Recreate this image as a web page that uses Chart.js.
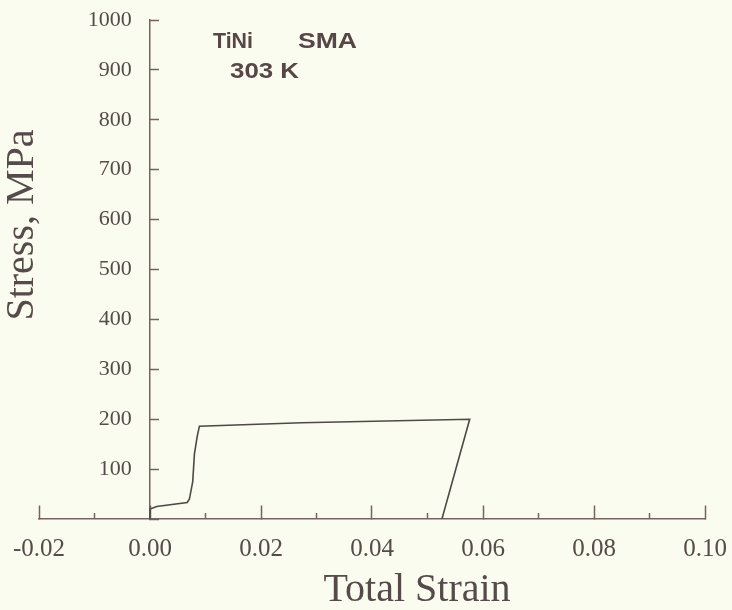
<!DOCTYPE html>
<html>
<head>
<meta charset="utf-8">
<script src="https://cdn.jsdelivr.net/npm/chart.js@4/dist/chart.umd.min.js"></script>
<style>
  html, body { margin: 0; padding: 0; background: #fafcef; }
  #wrap { width: 732px; height: 610px; }
</style>
</head>
<body>
<div id="wrap"><canvas id="stressChart" width="732" height="610"></canvas></div>
<script>
"use strict"
// TiNi shape memory alloy, 303 K: stress vs total strain loop
var strain = [0, 0, 0.0012, 0.0067, 0.0071, 0.0077, 0.0080, 0.0085, 0.0089, 0.0273, 0.0576, 0.0526];
var stress = [0, 20, 25, 33, 40, 75, 130, 165, 186, 193, 200, 0];

var strainTicks = [-0.02, 0.00, 0.02, 0.04, 0.06, 0.08, 0.10];
var stressTicks = [100, 200, 300, 400, 500, 600, 700, 800, 900, 1000];

var ink = "#564b4b";
var axisInk = "#756262";

// draw a word squeezed or stretched to a given width
function fitText(ctx, text, x, y, w) {
  var k = w / ctx.measureText(text).width;
  ctx.save();
  ctx.translate(x, y);
  ctx.scale(k, 1);
  ctx.fillText(text, 0, 0);
  ctx.restore();
}

// axis titles and the alloy note, drawn straight on the canvas
var textPlugin = {
  id: "textPlugin",
  beforeDraw: function(chart) {
    var ctx = chart.ctx;
    ctx.save();
    ctx.fillStyle = "#fafcef";
    ctx.fillRect(0, 0, chart.width, chart.height);
    ctx.restore();
  },
  afterDraw: function(chart) {
    var ctx = chart.ctx;
    ctx.save();
    ctx.fillStyle = ink;
    ctx.font = "40px 'Liberation Serif', 'Times New Roman', serif";
    ctx.textAlign = "center";
    ctx.textBaseline = "middle";
    ctx.fillText("Total Strain", 417, 590);

    ctx.save();
    ctx.translate(22, 225);
    ctx.rotate(-Math.PI / 2);
    ctx.fillText("Stress, MPa", 0, 0);
    ctx.restore();

    ctx.fillStyle = "#564646";
    ctx.font = "bold 22px 'Liberation Sans', Arial, sans-serif";
    ctx.textAlign = "left";
    ctx.textBaseline = "alphabetic";
    fitText(ctx, "TiNi", 213, 48, 40);
    fitText(ctx, "SMA", 298, 48, 59);
    fitText(ctx, "303 K", 230, 78, 69);
    ctx.restore();
  }
};

// axes sit inside the plot, so they should not push the plot area around
function noPadding(scale) {
  scale.paddingLeft = 0;
  scale.paddingRight = 0;
  scale.paddingTop = 0;
  scale.paddingBottom = 0;
}

var points = strain.map(function(s, i) { return {x: s, y: stress[i]}; });

var serif = "'Liberation Serif', 'Times New Roman', serif";

var chart = new Chart(document.getElementById("stressChart"), {
  type: "line",
  data: {
    datasets: [{
      data: points,
      borderColor: "#4e4848",
      borderWidth: 1.6,
      pointRadius: 0,
      tension: 0,
      fill: false
    }]
  },
  options: {
    responsive: false,
    animation: false,
    layout: {padding: {left: 39, right: 27, top: 20, bottom: 91}},
    plugins: {legend: {display: false}, tooltip: {enabled: false}},
    scales: {
      x: {//major strain ticks with labels
        type: "linear",
        min: strainTicks[0],
        max: strainTicks[strainTicks.length - 1],
        position: {y: 0},
        afterBuildTicks: function(scale) {
          scale.ticks = strainTicks.map(function(v) { return {value: v}; });
        },
        afterFit: noPadding,
        ticks: {
          color: ink,
          font: {family: serif, size: 25},
          padding: 29,
          maxRotation: 0,
          callback: function(v) { return v.toFixed(2); }
        },
        grid: {drawOnChartArea: false, tickLength: -14, color: axisInk, tickWidth: 1.5},
        border: {color: axisInk, width: 1.5}
      },
      xMinor: {//short unlabelled ticks between the major ones
        type: "linear",
        min: strainTicks[0],
        max: strainTicks[strainTicks.length - 1],
        position: {y: 0},
        afterBuildTicks: function(scale) {
          var t = [];
          for (var i = 0; i < strainTicks.length - 1; i++) {
            t.push({value: (strainTicks[i] + strainTicks[i + 1]) / 2});
          }
          scale.ticks = t;
        },
        afterFit: noPadding,
        ticks: {display: false},
        grid: {drawOnChartArea: false, tickLength: -6, color: axisInk, tickWidth: 1.5},
        border: {display: false}
      },
      y: {//the axis line and its inward ticks at zero strain
        type: "linear",
        min: 0,
        max: stressTicks[stressTicks.length - 1],
        position: {x: 0},
        afterBuildTicks: function(scale) {
          scale.ticks = [0].concat(stressTicks).map(function(v) { return {value: v}; });
        },
        afterFit: noPadding,
        ticks: {display: false},
        grid: {drawOnChartArea: false, tickLength: -10, color: axisInk, tickWidth: 1.5},
        border: {color: axisInk, width: 1.5}
      },
      yLabels: {//stress numbers, set a little left of the axis line
        type: "linear",
        min: 0,
        max: stressTicks[stressTicks.length - 1],
        position: {x: -0.0033},
        afterBuildTicks: function(scale) {
          scale.ticks = stressTicks.map(function(v) { return {value: v}; });
        },
        afterFit: noPadding,
        ticks: {
          color: ink,
          font: {family: serif, size: 22},
          callback: function(v) { return String(v); }
        },
        grid: {display: false},
        border: {display: false}
      }
    }
  },
  plugins: [textPlugin]
});
</script>
</body>
</html>
